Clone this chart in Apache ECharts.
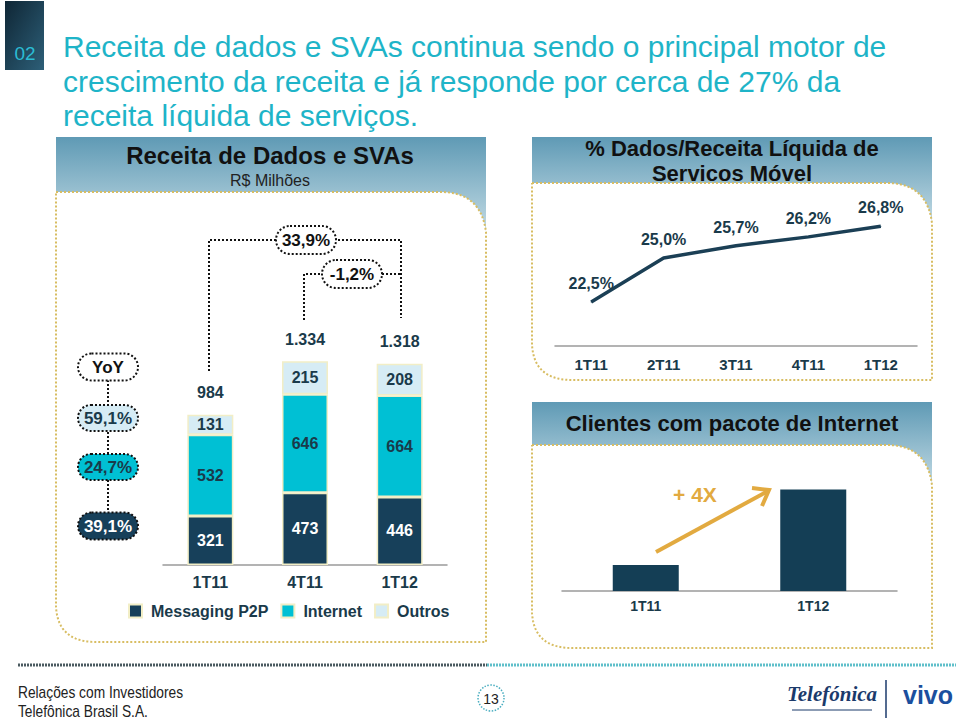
<!DOCTYPE html>
<html>
<head>
<meta charset="utf-8">
<script src="https://cdn.jsdelivr.net/npm/echarts@6/dist/echarts.min.js"></script>
<style>
html,body{margin:0;padding:0;background:#fff;}
#chart{width:960px;height:720px;}
</style>
</head>
<body>
<div id="chart"></div>
<script>
// ---- Data ----
var revQuarters = ['1T11', '4T11', '1T12'];
var messagingP2P = [321, 473, 446];
var internet = [532, 646, 664];
var outros = [131, 215, 208];
var yoyLabels = ['59,1%', '24,7%', '39,1%'];
var growthLabels = ['33,9%', '-1,2%'];

var shareQuarters = ['1T11', '2T11', '3T11', '4T11', '1T12'];
var dataShare = [22.5, 25.0, 25.7, 26.2, 26.8];

var clientQuarters = ['1T11', '1T12'];
var clientsIndex = [1.0, 3.9];

var seriesNames = ['Messaging P2P', 'Internet', 'Outros'];

// ---- Styles ----
var C_DARK = '#17405a', C_CYAN = '#00c0d4', C_LIGHT = '#d6ecf5', C_TXT = '#1a3a4a';
var C_GOLD = '#d8bd62', C_ARROW = '#e2aa40';
var FONT = '"Liberation Sans", Arial, sans-serif';

function fmtThousands(v) {
  return String(v).replace(/\B(?=(\d{3})+(?!\d))/g, '.');
}
var totals = revQuarters.map(function (_, i) { return messagingP2P[i] + internet[i] + outros[i]; });

var chart = echarts.init(document.getElementById('chart'), null, {renderer: 'svg'});

function headerGrad() {
  return new echarts.graphic.LinearGradient(0, 0, 0, 1, [
    {offset: 0, color: '#5f9ab5'}, {offset: 1, color: '#d2e5ec'}
  ]);
}
function quad(p0, c, p1, n) {
  var pts = [];
  for (var i = 0; i <= n; i++) {
    var t = i / n, u = 1 - t;
    pts.push([u * u * p0[0] + 2 * u * t * c[0] + t * t * p1[0], u * u * p0[1] + 2 * u * t * c[1] + t * t * p1[1]]);
  }
  return pts;
}
function panelPoints(x1, y1, x2, y2) {
  var pts = [[x1, y1]];
  pts = pts.concat(quad([x2 - 45, y1], [x2 - 5, y1], [x2, y1 + 40], 16));
  pts.push([x2, y2]);
  pts = pts.concat(quad([x1 + 40, y2], [x1 + 2, y2], [x1, y2 - 35], 16));
  pts.push([x1, y1]);
  return pts;
}
function pill(cx, cy, w, h, text, fill, color) {
  return {
    type: 'group', z: 50, children: [
      {type: 'rect', z: 50, shape: {x: cx - w / 2, y: cy - h / 2, width: w, height: h, r: h / 2},
        style: {fill: fill, stroke: '#111', lineWidth: 2, lineDash: [2, 2]}},
      {type: 'text', z: 51, style: {x: cx, y: cy, text: text, align: 'center', verticalAlign: 'middle',
        font: 'bold 17px ' + FONT, fill: color}}
    ]
  };
}
function dotLine(pts) {
  return {type: 'polyline', z: 40, shape: {points: pts},
    style: {stroke: '#111', lineWidth: 2, lineDash: [2, 2], fill: null}};
}
function panel(x1, yh, y1, x2, y2) {
  return [
    {type: 'rect', z: -5, shape: {x: x1, y: yh, width: x2 - x1, height: (y1 - yh) + 55}, style: {fill: headerGrad()}},
    {type: 'polygon', z: -4, shape: {points: panelPoints(x1, y1, x2, y2)}, style: {fill: '#fff'}},
    {type: 'polyline', z: -3, shape: {points: panelPoints(x1, y1, x2, y2)},
      style: {fill: null, stroke: C_GOLD, lineWidth: 2, lineDash: [2, 2]}}
  ];
}
function narrowText(x, y, text, size) {
  return {type: 'text', z: 5, x: x, y: y, scaleX: 0.86, originX: 0, originY: 0,
    style: {x: 0, y: 0, text: text, verticalAlign: 'middle', font: size + 'px ' + FONT, fill: '#222'}};
}

var graphics = [
  {type: 'rect', z: -5, shape: {x: 5, y: 1, width: 39, height: 69},
    style: {fill: new echarts.graphic.LinearGradient(0, 0, 1, 1, [{offset: 0, color: '#0f2635'}, {offset: 1, color: '#2d5f78'}])}},
  {type: 'text', z: 5, style: {x: 25, y: 53, text: '02', align: 'center', verticalAlign: 'middle', font: '19px ' + FONT, fill: '#2bbcd4'}},
  {type: 'text', z: 5, style: {x: 63, y: 46, text: 'Receita de dados e SVAs continua sendo o principal motor de', verticalAlign: 'middle', font: '30px ' + FONT, fill: '#1eb4c8'}},
  {type: 'text', z: 5, style: {x: 63, y: 81, text: 'crescimento da receita e já responde por cerca de 27% da', verticalAlign: 'middle', font: '30px ' + FONT, fill: '#1eb4c8'}},
  {type: 'text', z: 5, style: {x: 63, y: 115, text: 'receita líquida de serviços.', verticalAlign: 'middle', font: '30px ' + FONT, fill: '#1eb4c8'}}
]
.concat(panel(56, 137, 192, 486, 642))
.concat(panel(532, 137, 183, 932, 380))
.concat(panel(532, 402, 445, 932, 648))
.concat([
  {type: 'text', z: 5, style: {x: 270, y: 155, text: 'Receita de Dados e SVAs', align: 'center', verticalAlign: 'middle', font: 'bold 24px ' + FONT, fill: '#111'}},
  {type: 'text', z: 5, style: {x: 270, y: 180, text: 'R$ Milhões', align: 'center', verticalAlign: 'middle', font: '16px ' + FONT, fill: '#222'}},
  {type: 'text', z: 5, style: {x: 732, y: 148, text: '% Dados/Receita Líquida de', align: 'center', verticalAlign: 'middle', font: 'bold 22px ' + FONT, fill: '#111'}},
  {type: 'text', z: 5, style: {x: 732, y: 173, text: 'Servicos Móvel', align: 'center', verticalAlign: 'middle', font: 'bold 22px ' + FONT, fill: '#111'}},
  {type: 'text', z: 5, style: {x: 732, y: 423, text: 'Clientes com pacote de Internet', align: 'center', verticalAlign: 'middle', font: 'bold 22px ' + FONT, fill: '#111'}},

  dotLine([[209, 371], [209, 240], [401, 240], [401, 318]]),
  dotLine([[304, 320], [304, 274], [401, 274]]),
  pill(306, 240, 60, 28, growthLabels[0], '#fff', '#111'),
  pill(352, 274, 60, 28, growthLabels[1], '#fff', '#111'),

  dotLine([[108, 380], [108, 512]]),
  pill(108, 367, 60, 27, 'YoY', '#fff', '#111'),
  pill(108, 418, 60, 26, yoyLabels[0], C_LIGHT, C_TXT),
  pill(108, 467, 60, 26, yoyLabels[1], C_CYAN, C_TXT),
  pill(108, 526, 60, 27, yoyLabels[2], C_DARK, '#fff'),

  {type: 'polyline', z: 40, shape: {points: [[656, 552], [768, 491]]}, style: {stroke: C_ARROW, lineWidth: 4, fill: null}},
  {type: 'polyline', z: 40, shape: {points: [[752, 488], [769, 490], [762, 506]]}, style: {stroke: C_ARROW, lineWidth: 4, fill: null, lineJoin: 'miter'}},
  {type: 'text', z: 40, style: {x: 695, y: 494, text: '+ 4X', align: 'center', verticalAlign: 'middle', font: 'bold 21px ' + FONT, fill: C_ARROW}},

  {type: 'line', z: 5, shape: {x1: 18, y1: 665, x2: 487, y2: 665}, style: {stroke: '#4a5a60', lineWidth: 3, lineDash: [2, 1]}},
  {type: 'line', z: 5, shape: {x1: 487, y1: 665, x2: 956, y2: 665}, style: {stroke: '#5fbfca', lineWidth: 3, lineDash: [2, 1]}},
  narrowText(18, 692, 'Relações com Investidores', 16),
  narrowText(18, 711, 'Telefônica Brasil S.A.', 16),
  {type: 'circle', z: 5, shape: {cx: 491, cy: 698, r: 13}, style: {fill: '#fff', stroke: '#4aaec0', lineWidth: 1.5, lineDash: [1.5, 1.5]}},
  {type: 'text', z: 6, style: {x: 491, y: 699, text: '13', align: 'center', verticalAlign: 'middle', font: '14px ' + FONT, fill: '#222'}},
  {type: 'text', z: 5, style: {x: 832, y: 694, text: 'Telefónica', align: 'center', verticalAlign: 'middle', font: 'italic bold 21px "Liberation Serif", serif', fill: '#1b3a6b'}},
  {type: 'line', z: 5, shape: {x1: 792, y1: 710, x2: 872, y2: 710}, style: {stroke: '#1b3a6b', lineWidth: 1}},
  {type: 'line', z: 5, shape: {x1: 886, y1: 680, x2: 886, y2: 718}, style: {stroke: '#1b3a6b', lineWidth: 1.5}},
  {type: 'text', z: 5, style: {x: 928, y: 695, text: 'vivo', align: 'center', verticalAlign: 'middle', font: 'bold 25px ' + FONT, fill: '#1b4f9e'}}
]);

var segLabel = function (color) {
  return {show: true, position: 'inside', color: color, fontFamily: FONT, fontWeight: 'bold', fontSize: 16};
};
var barItem = function (color) {
  return {color: color, borderColor: '#f2eec6', borderWidth: 1.5};
};

var option = {
  animation: false,
  backgroundColor: '#fff',
  textStyle: {fontFamily: FONT},
  graphic: {elements: graphics},
  legend: {
    data: seriesNames, left: 123, top: 598, icon: 'rect', itemWidth: 13, itemHeight: 13, itemGap: 12,
    textStyle: {fontFamily: FONT, fontWeight: 'bold', fontSize: 16, color: C_TXT, padding: [0, 0, 0, 4]}, selectedMode: false
  },
  grid: [
    {left: 163, width: 284, top: 336, bottom: 155},
    {left: 555, width: 362, top: 170, bottom: 374},
    {left: 562, width: 335, top: 461, bottom: 129}
  ],
  xAxis: [
    {gridIndex: 0, type: 'category', data: revQuarters,
      axisLine: {lineStyle: {color: '#9a9a9a', width: 1.5}}, axisTick: {show: false},
      axisLabel: {margin: 9, fontFamily: FONT, fontWeight: 'bold', fontSize: 16, color: C_TXT}},
    {gridIndex: 1, type: 'category', data: shareQuarters,
      axisLine: {lineStyle: {color: '#9a9a9a', width: 1.5}}, axisTick: {show: false},
      axisLabel: {margin: 11, fontFamily: FONT, fontWeight: 'bold', fontSize: 15, color: C_TXT}},
    {gridIndex: 2, type: 'category', data: clientQuarters,
      axisLine: {lineStyle: {color: '#9a9a9a', width: 1.5}}, axisTick: {show: false},
      axisLabel: {margin: 8, fontFamily: FONT, fontWeight: 'bold', fontSize: 14, color: C_TXT}}
  ],
  yAxis: [
    {gridIndex: 0, type: 'value', min: 0, max: 1500, show: false},
    {gridIndex: 1, type: 'value', min: 20, max: 30, show: false},
    {gridIndex: 2, type: 'value', min: 0, max: 5, show: false}
  ],
  series: [
    {name: seriesNames[0], type: 'bar', stack: 'rev', xAxisIndex: 0, yAxisIndex: 0, barWidth: 46,
      data: messagingP2P, itemStyle: barItem(C_DARK), label: segLabel('#fff')},
    {name: seriesNames[1], type: 'bar', stack: 'rev', xAxisIndex: 0, yAxisIndex: 0, barWidth: 46,
      data: internet, itemStyle: barItem(C_CYAN), label: segLabel(C_TXT)},
    {name: seriesNames[2], type: 'bar', stack: 'rev', xAxisIndex: 0, yAxisIndex: 0, barWidth: 46,
      data: outros, itemStyle: barItem(C_LIGHT), label: segLabel(C_TXT)},
    {name: 'total', type: 'bar', stack: 'rev', xAxisIndex: 0, yAxisIndex: 0, barWidth: 46,
      data: revQuarters.map(function () { return 0; }), itemStyle: {color: 'transparent'},
      label: {show: true, position: 'top', distance: 14, fontFamily: FONT, fontWeight: 'bold', fontSize: 16, color: C_TXT,
        formatter: function (p) { return fmtThousands(totals[p.dataIndex]); }}},
    {name: 'share', type: 'line', xAxisIndex: 1, yAxisIndex: 1, data: dataShare,
      symbol: 'circle', symbolSize: 1, showSymbol: true, itemStyle: {color: '#1b3f55'},
      lineStyle: {color: '#1b3f55', width: 3.5},
      label: {show: true, position: 'top', distance: 10, fontFamily: FONT, fontWeight: 'bold', fontSize: 16, color: C_TXT,
        formatter: function (p) { return p.value.toFixed(1).replace('.', ',') + '%'; }}},
    {name: 'clients', type: 'bar', xAxisIndex: 2, yAxisIndex: 2, data: clientsIndex, barWidth: 66,
      itemStyle: {color: '#143e55'}}
  ]
};
chart.setOption(option);
</script>
</body>
</html>
